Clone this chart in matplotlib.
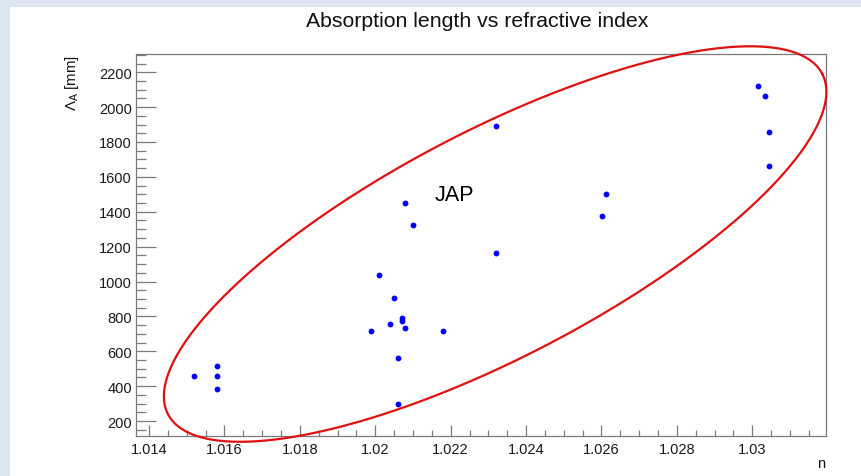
import numpy as np
import matplotlib
matplotlib.use("Agg")
import matplotlib.pyplot as plt
from matplotlib.patches import Rectangle
from matplotlib.ticker import MultipleLocator, FuncFormatter

plt.rcParams['font.family'] = ['Liberation Sans', 'DejaVu Sans']
plt.rcParams['mathtext.fontset'] = 'custom'
plt.rcParams['mathtext.rm'] = 'Liberation Sans'
plt.rcParams['mathtext.it'] = 'Liberation Sans:italic'

# Refractive index and absorption length of the aerogel samples
n_index = [1.01518, 1.0158, 1.0158, 1.0158, 1.0199, 1.0201, 1.0204, 1.02049,
           1.02061, 1.02061, 1.0207, 1.0207, 1.0208, 1.0208, 1.02101, 1.02181,
           1.02321, 1.02321, 1.02602, 1.02611, 1.03014, 1.03033, 1.03043, 1.03043]
abs_len = [461, 518, 461, 383, 718, 1040, 758, 903,
           563, 297, 793, 773, 733, 1452, 1323, 718,
           1893, 1165, 1377, 1501, 2122, 2065, 1858, 1665]

# Ellipse grouping the JAP samples: centre (n, mm), radii (n, mm), tilt (deg)
ell_center = (1.02318, 1215)
ell_radii = (0.00978, 650)
ell_tilt = 27.5

W, H = 862, 477
fig = plt.figure(figsize=(W / 100, H / 100), dpi=100)
fig.patch.set_facecolor('#dce6f1')
fig.patches.append(Rectangle((10 / W, 0), 1 - 10 / W, (H - 8) / H,
                             transform=fig.transFigure, facecolor='white',
                             edgecolor='none', zorder=-10))

ax = fig.add_axes([136 / W, (H - 437) / H, (826 - 136) / W, (437 - 55) / H])
ax.set_zorder(2)
ax.set_facecolor('white')

# Frame range with 10% margins around the data
x0, x1 = min(n_index), max(n_index)
y0, y1 = min(abs_len), max(abs_len)
dx, dy = x1 - x0, y1 - y0
ax.set_xlim(x0 - 0.1 * dx, x1 + 0.1 * dx)
ax.set_ylim(y0 - 0.1 * dy, y1 + 0.1 * dy)

ax.plot(n_index, abs_len, 'o', color='#0000ff', ms=4.2, mec='none', zorder=3)

ax.xaxis.set_major_locator(MultipleLocator(0.002))
ax.xaxis.set_minor_locator(MultipleLocator(0.0005))
ax.yaxis.set_major_locator(MultipleLocator(200))
ax.yaxis.set_minor_locator(MultipleLocator(50))
ax.xaxis.set_major_formatter(FuncFormatter(lambda v, p: f"{v:.3f}".rstrip('0')))

frame_col = '#7a7a7a'
for s in ax.spines.values():
    s.set_color(frame_col)
    s.set_linewidth(0.9)
ax.tick_params(axis='both', which='both', direction='in', colors=frame_col,
               labelcolor='#1a1a1a', labelsize=10.5, width=0.9,
               top=False, right=False)
ax.tick_params(axis='x', which='major', length=8, pad=4)
ax.tick_params(axis='x', which='minor', length=4)
ax.tick_params(axis='y', which='major', length=14.5, pad=3)
ax.tick_params(axis='y', which='minor', length=7.2)

# Tilted ellipse, rotated in screen space
cx, cy = ax.transData.transform(ell_center)
rx = ax.transData.transform((ell_center[0] + ell_radii[0], ell_center[1]))[0] - cx
ry = ax.transData.transform((ell_center[0], ell_center[1] + ell_radii[1]))[1] - cy
t = np.linspace(0, 2 * np.pi, 500)
th = np.deg2rad(ell_tilt)
ex = cx + rx * np.cos(t) * np.cos(th) - ry * np.sin(t) * np.sin(th)
ey = cy + rx * np.cos(t) * np.sin(th) + ry * np.sin(t) * np.cos(th)
pts = ax.transData.inverted().transform(np.column_stack([ex, ey]))
ax.plot(pts[:, 0], pts[:, 1], color='#e01010', lw=1.6, clip_on=False, zorder=4)

ax.text(1.02157, 1470, 'JAP', fontsize=15.5, color='black', ha='left', va='baseline')

fig.text(477 / W, (H - 27) / H, 'Absorption length vs refractive index',
         fontsize=15.3, ha='center', va='baseline', color='#111111')
fig.text(72 / W, (H - 55) / H, r'$\Lambda_{\rm A}$ [mm]', fontsize=10.8,
         rotation=90, ha='center', va='top', color='#111111')
fig.text(825 / W, (H - 468) / H, 'n', fontsize=10.5, ha='right', va='baseline',
         color='#111111')

fig.savefig('out.png', dpi=100, facecolor=fig.get_facecolor())
